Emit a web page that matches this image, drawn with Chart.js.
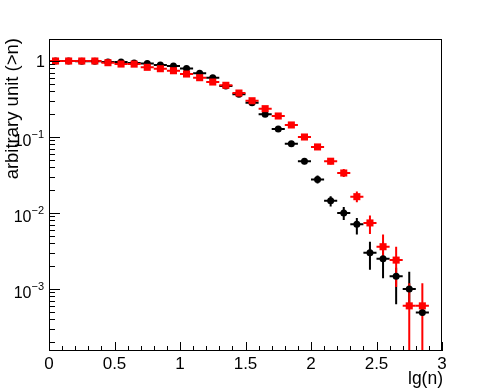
<!DOCTYPE html>
<html>
<head>
<meta charset="utf-8">
<script src="https://cdn.jsdelivr.net/npm/chart.js@4/dist/chart.umd.min.js"></script>
<style>
  html, body { margin: 0; padding: 0; background: #fff; }
  canvas { display: block; }
</style>
</head>
<body>
<canvas id="c" width="491" height="392"></canvas>
<script>
// bin centres, lg(n)
const binX = [0.05, 0.15, 0.25, 0.35, 0.45, 0.55, 0.65, 0.75, 0.85, 0.95,
              1.05, 1.15, 1.25, 1.35, 1.45, 1.55, 1.65, 1.75, 1.85, 1.95,
              2.05, 2.15, 2.25, 2.35, 2.45, 2.55, 2.65, 2.75, 2.85];

// black series (circles)
const blackY  = [1.0, 1.0, 0.995, 0.99, 0.97, 0.97, 0.94, 0.93, 0.886, 0.86,
                 0.797, 0.689, 0.603, 0.469, 0.364, 0.283, 0.20, 0.127, 0.0817, 0.0479,
                 0.0276, 0.0145, 0.0100, 0.0071, 0.0030, 0.0025, 0.00147, 0.00100, 0.00049];
const blackLo = [0.99, 0.99, 0.985, 0.98, 0.96, 0.96, 0.93, 0.92, 0.876, 0.85,
                 0.787, 0.679, 0.593, 0.46, 0.356, 0.276, 0.194, 0.122, 0.0775, 0.0437,
                 0.0244, 0.0122, 0.0081, 0.0052, 0.00179, 0.00139, 0.00063, 0.00061, 0.00044];
const blackHi = [1.01, 1.01, 1.005, 1.0, 0.98, 0.98, 0.95, 0.94, 0.896, 0.87,
                 0.807, 0.699, 0.613, 0.478, 0.372, 0.29, 0.206, 0.132, 0.086, 0.0521,
                 0.0312, 0.0166, 0.0120, 0.0086, 0.0042, 0.0042, 0.0019, 0.00169, 0.00057];

// red series (squares)
const redY  = [1.0, 1.0, 1.0, 1.0, 0.95, 0.912, 0.91, 0.826, 0.792, 0.745,
               0.674, 0.603, 0.529, 0.479, 0.379, 0.30, 0.236, 0.189, 0.144, 0.10,
               0.074, 0.048, 0.0336, 0.0164, 0.0074, 0.0036, 0.0024, 0.0006, 0.0006];
const redLo = [0.99, 0.99, 0.99, 0.99, 0.94, 0.902, 0.9, 0.816, 0.782, 0.735,
               0.664, 0.594, 0.52, 0.47, 0.371, 0.293, 0.23, 0.183, 0.138, 0.095,
               0.0695, 0.0435, 0.0297, 0.0139, 0.0053, 0.0026, 0.00106, 0, 0];
const redHi = [1.01, 1.01, 1.01, 1.01, 0.96, 0.922, 0.92, 0.836, 0.802, 0.755,
               0.684, 0.612, 0.538, 0.488, 0.387, 0.307, 0.242, 0.195, 0.15, 0.105,
               0.0785, 0.0525, 0.0379, 0.0192, 0.0093, 0.0052, 0.0036, 0.00119, 0.00119];

const binHalf = 0.05;
const xTicks = [0, 0.5, 1, 1.5, 2, 2.5, 3];
const xTickLabels = ["0", "0.5", "1", "1.5", "2", "2.5", "3"];
const yDecades = [1, 0.1, 0.01, 0.001];
const yDecadeExp = [0, -1, -2, -3];
const xTitle = "lg(n)";
const yTitle = "arbitrary unit (>n)";

const FONT = "'Liberation Sans', Arial, Helvetica, sans-serif";

function pts(ys, lo, hi) {
    return binX.map((x, i) => ({x: x, y: ys[i], lo: lo[i], hi: hi[i]}));
}

// horizontal + vertical error bars, drawn under the markers
const errorBars = {
    id: "errorBars",
    beforeDatasetsDraw(chart) {
        const {ctx, chartArea: a, scales: {x, y}} = chart;
        ctx.save();
        ctx.beginPath();
        ctx.rect(a.left, a.top, a.right - a.left, a.bottom - a.top);
        ctx.clip();
        ctx.lineWidth = 2;
        [1, 0].forEach(di => {
            const ds = chart.data.datasets[di];
            ctx.strokeStyle = ds.borderColor;
            ds.data.forEach(p => {
                const px = x.getPixelForValue(p.x);
                const py = y.getPixelForValue(p.y);
                const yHi = y.getPixelForValue(p.hi);
                const yLo = p.lo > 0 ? y.getPixelForValue(p.lo) : a.bottom;
                ctx.beginPath();
                ctx.moveTo(x.getPixelForValue(p.x - binHalf), py);
                ctx.lineTo(x.getPixelForValue(p.x + binHalf), py);
                ctx.moveTo(px, yHi);
                ctx.lineTo(px, Math.min(yLo, a.bottom));
                ctx.stroke();
            });
        });
        ctx.restore();
    },
};

// ROOT-like frame, inward ticks and labels
const rootAxes = {
    id: "rootAxes",
    afterDatasetsDraw(chart) {
        const {ctx, chartArea: a, scales: {x, y}} = chart;
        ctx.save();
        ctx.strokeStyle = "#000";
        ctx.lineWidth = 1;
        ctx.strokeRect(Math.round(a.left) + 0.5, Math.round(a.top) + 0.5,
                       Math.round(a.right - a.left) - 1, Math.round(a.bottom - a.top) - 1);

        // x ticks
        ctx.beginPath();
        for (let k = 0; k <= 30; k++) {
            const v = k / 10;
            const px = Math.round(x.getPixelForValue(v)) + 0.5;
            const len = (k % 5 === 0) ? 9 : 5;
            ctx.moveTo(px, a.bottom);
            ctx.lineTo(px, a.bottom - len);
        }
        // y ticks
        for (let e = -4; e <= 0; e++) {
            for (let m = 1; m <= 9; m++) {
                const v = m * Math.pow(10, e);
                if (v < y.min || v > y.max) continue;
                const py = Math.round(y.getPixelForValue(v)) + 0.5;
                const len = (m === 1) ? 11 : 6;
                ctx.moveTo(a.left, py);
                ctx.lineTo(a.left + len, py);
            }
        }
        ctx.stroke();

        ctx.fillStyle = "#000";
        // x labels
        ctx.font = "17px " + FONT;
        ctx.textAlign = "center";
        ctx.textBaseline = "alphabetic";
        xTicks.forEach((v, i) => {
            ctx.fillText(xTickLabels[i], x.getPixelForValue(v), 369);
        });
        // y labels
        yDecades.forEach((v, i) => {
            const py = y.getPixelForValue(v);
            const exp = yDecadeExp[i];
            if (exp === 0) {
                ctx.font = "16px " + FONT;
                ctx.textAlign = "right";
                ctx.fillText("1", 45, py + 6);
            } else {
                const sup = "\u2212" + Math.abs(exp);
                ctx.font = "11px " + FONT;
                const supW = ctx.measureText(sup).width;
                ctx.textAlign = "right";
                ctx.fillText(sup, 44, py + 1);
                ctx.font = "16px " + FONT;
                ctx.fillText("10", 44 - supW, py + 9);
            }
        });
        // titles
        ctx.font = "17.5px " + FONT;
        ctx.textAlign = "right";
        ctx.fillText(xTitle, a.right + 1, 384);
        ctx.font = "18.5px " + FONT;
        ctx.save();
        ctx.translate(18, a.top - 1);
        ctx.rotate(-Math.PI / 2);
        ctx.textAlign = "right";
        ctx.fillText(yTitle, 0, 0);
        ctx.restore();
        ctx.restore();
    },
};

new Chart(document.getElementById("c"), {
    type: "scatter",
    data: {
        datasets: [
            {label: "red", data: pts(redY, redLo, redHi), order: 0,
             pointStyle: "rect", pointRadius: 5, pointHoverRadius: 5,
             backgroundColor: "#ff0000", borderColor: "#ff0000", borderWidth: 0},
            {label: "black", data: pts(blackY, blackLo, blackHi), order: 1,
             pointStyle: "circle", pointRadius: 3.5, pointHoverRadius: 3.5,
             backgroundColor: "#000000", borderColor: "#000000", borderWidth: 0},
        ],
    },
    options: {
        responsive: false,
        animation: false,
        devicePixelRatio: 1,
        layout: {padding: {left: 49, right: 49, top: 39, bottom: 41}},
        plugins: {legend: {display: false}, tooltip: {enabled: false}},
        scales: {
            x: {type: "linear", min: 0, max: 3, display: false},
            y: {type: "logarithmic", min: 1.528e-4, max: 1.948, display: false},
        },
    },
    plugins: [errorBars, rootAxes],
});
</script>
</body>
</html>
